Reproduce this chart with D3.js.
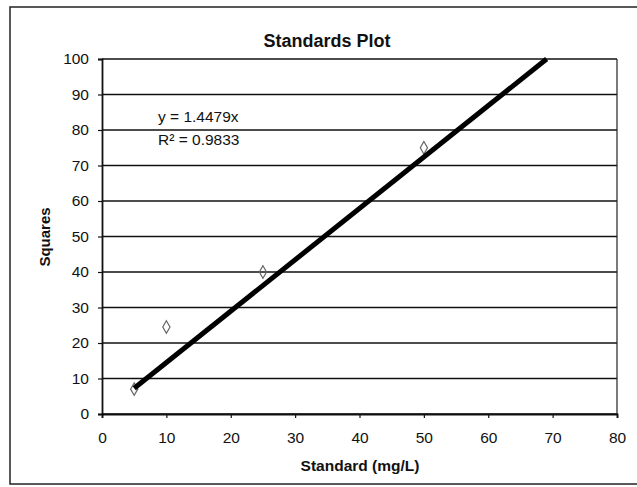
<!DOCTYPE html>
<html>
<head>
<meta charset="utf-8">
<script src="https://cdn.jsdelivr.net/npm/d3@7"></script>
<style>
  body { margin: 0; background: #fff; }
  text { font-family: "Liberation Sans", Arial, sans-serif; fill: #111; }
</style>
</head>
<body>
<svg id="chart"></svg>
<script>
const standard = [5, 10, 25, 50];
const squares = [7, 24.5, 40, 75];
const xTicks = [0, 10, 20, 30, 40, 50, 60, 70, 80];
const yTicks = [0, 10, 20, 30, 40, 50, 60, 70, 80, 90, 100];
const slope = 1.4479;
const eqLines = ["y = 1.4479x", "R² = 0.9833"];

const W = 637, H = 487;
const margin = { top: 59, right: 20, bottom: 73, left: 102 };
const width = 617 - margin.left;
const height = 414 - margin.top;

const svg = d3.select("#chart").attr("width", W).attr("height", H);

// outer chart border (runs off the right edge like the scan)
svg.append("rect")
    .attr("x", 10).attr("y", 7)
    .attr("width", 660).attr("height", 477)
    .attr("fill", "none").attr("stroke", "#222").attr("stroke-width", 1.5);

const g = svg.append("g").attr("transform", `translate(${margin.left},${margin.top})`);

const x = d3.scaleLinear().domain([0, 80]).range([0, width]);
const y = d3.scaleLinear().domain([0, 100]).range([height, 0]);

// gridlines
g.selectAll("line.grid")
    .data(yTicks)
    .join("line")
    .attr("class", "grid")
    .attr("x1", 0).attr("x2", width)
    .attr("y1", d => y(d)).attr("y2", d => y(d))
    .attr("stroke", "#111").attr("stroke-width", 1.6);

// plot frame right side
g.append("line")
    .attr("x1", width).attr("x2", width)
    .attr("y1", 0).attr("y2", height)
    .attr("stroke", "#222").attr("stroke-width", 1.2);

const xAxis = g.append("g")
    .attr("transform", `translate(0,${height})`)
    .call(d3.axisBottom(x).tickValues(xTicks).tickSize(4).tickPadding(14));
const yAxis = g.append("g")
    .call(d3.axisLeft(y).tickValues(yTicks).tickSize(4).tickPadding(9));

[xAxis, yAxis].forEach(a => {
    a.select(".domain").attr("stroke", "#111").attr("stroke-width", 1.8);
    a.selectAll(".tick line").attr("stroke", "#111").attr("stroke-width", 1.2);
    a.selectAll(".tick text")
        .style("font-family", "Liberation Sans, Arial, sans-serif")
        .style("font-size", "15.5px").attr("fill", "#111");
});

// data markers
g.selectAll("path.pt")
    .data(standard.map((d, i) => [d, squares[i]]))
    .join("path")
    .attr("class", "pt")
    .attr("d", d3.symbol(d3.symbolDiamond, 45))
    .attr("transform", d => `translate(${x(d[0])},${y(d[1])})`)
    .attr("fill", "none").attr("stroke", "#666").attr("stroke-width", 1.2);

// trendline y = slope * x, clipped at the top of the plot
const xEnd = d3.min([80, 100 / slope]);
g.append("line")
    .attr("x1", x(standard[0])).attr("y1", y(slope * standard[0]))
    .attr("x2", x(xEnd)).attr("y2", y(slope * xEnd))
    .attr("stroke", "#000").attr("stroke-width", 5);

// equation text
g.selectAll("text.eq")
    .data(eqLines)
    .join("text")
    .attr("class", "eq")
    .attr("x", 56)
    .attr("y", (d, i) => 63 + i * 23)
    .style("font-size", "15.5px")
    .text(d => d);

// title and axis labels
svg.append("text")
    .attr("x", 327).attr("y", 47)
    .attr("text-anchor", "middle")
    .style("font-size", "18px").style("font-weight", "bold")
    .text("Standards Plot");

svg.append("text")
    .attr("x", 360).attr("y", 471)
    .attr("text-anchor", "middle")
    .style("font-size", "15.5px").style("font-weight", "bold")
    .text("Standard (mg/L)");

svg.append("text")
    .attr("transform", "translate(50,237) rotate(-90)")
    .attr("text-anchor", "middle")
    .style("font-size", "15px").style("font-weight", "bold")
    .text("Squares");
</script>
</body>
</html>
